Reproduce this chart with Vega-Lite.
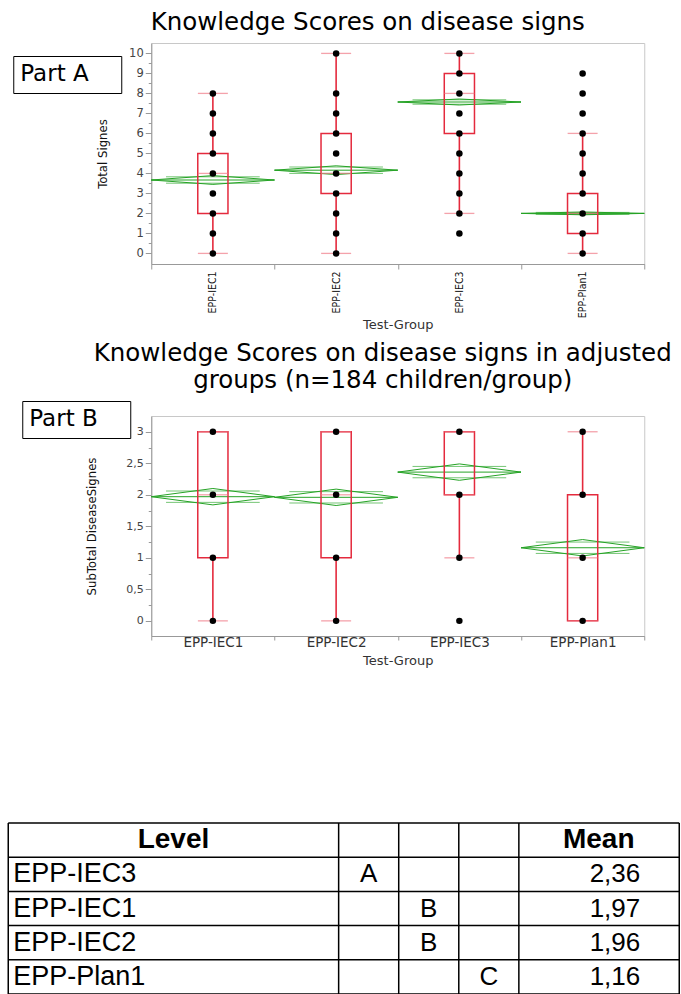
{
  "$schema": "https://vega.github.io/schema/vega-lite/v6.json",
  "padding": {"left": 7.25, "top": 9, "right": 0, "bottom": 0},
  "background": "white",
  "config": {
    "view": {"stroke": "#c8c8c8", "strokeWidth": 1},
    "axis": {"grid": false, "domainColor": "#999999", "tickColor": "#999999"},
    "locale": {"number": {"decimal": ",", "thousands": " ", "grouping": [3], "currency": ["", " €"]}}
  },
  "datasets": {
    "pointsA": [
      {"group": "EPP-IEC1", "score": 0}, {"group": "EPP-IEC1", "score": 1}, {"group": "EPP-IEC1", "score": 2},
      {"group": "EPP-IEC1", "score": 3}, {"group": "EPP-IEC1", "score": 4}, {"group": "EPP-IEC1", "score": 5},
      {"group": "EPP-IEC1", "score": 6}, {"group": "EPP-IEC1", "score": 7}, {"group": "EPP-IEC1", "score": 8},
      {"group": "EPP-IEC2", "score": 0}, {"group": "EPP-IEC2", "score": 1}, {"group": "EPP-IEC2", "score": 2},
      {"group": "EPP-IEC2", "score": 3}, {"group": "EPP-IEC2", "score": 4}, {"group": "EPP-IEC2", "score": 5},
      {"group": "EPP-IEC2", "score": 6}, {"group": "EPP-IEC2", "score": 7}, {"group": "EPP-IEC2", "score": 8},
      {"group": "EPP-IEC2", "score": 10},
      {"group": "EPP-IEC3", "score": 1}, {"group": "EPP-IEC3", "score": 2}, {"group": "EPP-IEC3", "score": 3},
      {"group": "EPP-IEC3", "score": 4}, {"group": "EPP-IEC3", "score": 5}, {"group": "EPP-IEC3", "score": 6},
      {"group": "EPP-IEC3", "score": 7}, {"group": "EPP-IEC3", "score": 8}, {"group": "EPP-IEC3", "score": 9},
      {"group": "EPP-IEC3", "score": 10},
      {"group": "EPP-Plan1", "score": 0}, {"group": "EPP-Plan1", "score": 1}, {"group": "EPP-Plan1", "score": 2},
      {"group": "EPP-Plan1", "score": 3}, {"group": "EPP-Plan1", "score": 4}, {"group": "EPP-Plan1", "score": 5},
      {"group": "EPP-Plan1", "score": 6}, {"group": "EPP-Plan1", "score": 7}, {"group": "EPP-Plan1", "score": 8},
      {"group": "EPP-Plan1", "score": 9}
    ],
    "statsA": [
      {"group": "EPP-IEC1", "lo": 0, "q1": 2, "median": 4, "q3": 5, "hi": 8, "mean": 3.67, "ci_lo": 3.45, "ci_hi": 3.89, "ol_lo": 3.51, "ol_hi": 3.83},
      {"group": "EPP-IEC2", "lo": 0, "q1": 3, "median": 4, "q3": 6, "hi": 10, "mean": 4.16, "ci_lo": 3.94, "ci_hi": 4.38, "ol_lo": 4.0, "ol_hi": 4.32},
      {"group": "EPP-IEC3", "lo": 2, "q1": 6, "median": 8, "q3": 9, "hi": 10, "mean": 7.57, "ci_lo": 7.42, "ci_hi": 7.72, "ol_lo": 7.46, "ol_hi": 7.68},
      {"group": "EPP-Plan1", "lo": 0, "q1": 1, "median": 2, "q3": 3, "hi": 6, "mean": 2.0, "ci_lo": 1.93, "ci_hi": 2.07, "ol_lo": 1.95, "ol_hi": 2.05}
    ],
    "pointsB": [
      {"group": "EPP-IEC1", "score": 0}, {"group": "EPP-IEC1", "score": 1}, {"group": "EPP-IEC1", "score": 2}, {"group": "EPP-IEC1", "score": 3},
      {"group": "EPP-IEC2", "score": 0}, {"group": "EPP-IEC2", "score": 1}, {"group": "EPP-IEC2", "score": 2}, {"group": "EPP-IEC2", "score": 3},
      {"group": "EPP-IEC3", "score": 0}, {"group": "EPP-IEC3", "score": 1}, {"group": "EPP-IEC3", "score": 2}, {"group": "EPP-IEC3", "score": 3},
      {"group": "EPP-Plan1", "score": 0}, {"group": "EPP-Plan1", "score": 1}, {"group": "EPP-Plan1", "score": 2}, {"group": "EPP-Plan1", "score": 3}
    ],
    "statsB": [
      {"group": "EPP-IEC1", "lo": 0, "q1": 1, "median": 2, "q3": 3, "hi": 3, "mean": 1.97, "ci_lo": 1.84, "ci_hi": 2.1, "ol_lo": 1.88, "ol_hi": 2.06, "letter": "B"},
      {"group": "EPP-IEC2", "lo": 0, "q1": 1, "median": 2, "q3": 3, "hi": 3, "mean": 1.96, "ci_lo": 1.83, "ci_hi": 2.09, "ol_lo": 1.87, "ol_hi": 2.05, "letter": "B"},
      {"group": "EPP-IEC3", "lo": 1, "q1": 2, "median": 2, "q3": 3, "hi": 3, "mean": 2.36, "ci_lo": 2.23, "ci_hi": 2.49, "ol_lo": 2.27, "ol_hi": 2.45, "letter": "A"},
      {"group": "EPP-Plan1", "lo": 0, "q1": 0, "median": 1, "q3": 2, "hi": 3, "mean": 1.16, "ci_lo": 1.03, "ci_hi": 1.29, "ol_lo": 1.07, "ol_hi": 1.25, "letter": "C"}
    ]
  },
  "bounds": "flush",
  "spacing": 152,
  "resolve": {"scale": {"color": "independent"}},
  "vconcat": [
    {
      "width": 493,
      "height": 221,
      "title": {"text": "Knowledge Scores on disease signs", "font": "DejaVu Sans", "fontSize": 24.5, "fontWeight": "normal", "color": "#000000", "anchor": "middle", "dx": -30, "offset": 8},
      "resolve": {"axis": {"y": "independent"}},
      "layer": [
        {"data": {"name": "statsA"}, "mark": {"type": "rule", "color": "#26a326", "strokeWidth": 1},
         "encoding": {"x": {"field": "group", "type": "nominal", "bandPosition": 0}, "x2": {"field": "group", "bandPosition": 0.5},
                      "y": {"field": "mean", "type": "quantitative", "axis": null}, "y2": {"field": "ci_hi"}}},
        {"data": {"name": "statsA"}, "mark": {"type": "rule", "color": "#26a326", "strokeWidth": 1},
         "encoding": {"x": {"field": "group", "type": "nominal", "bandPosition": 0.5}, "x2": {"field": "group", "bandPosition": 1},
                      "y": {"field": "ci_hi", "type": "quantitative", "axis": null}, "y2": {"field": "mean"}}},
        {"data": {"name": "statsA"}, "mark": {"type": "rule", "color": "#26a326", "strokeWidth": 1},
         "encoding": {"x": {"field": "group", "type": "nominal", "bandPosition": 0}, "x2": {"field": "group", "bandPosition": 0.5},
                      "y": {"field": "mean", "type": "quantitative", "axis": null}, "y2": {"field": "ci_lo"}}},
        {"data": {"name": "statsA"}, "mark": {"type": "rule", "color": "#26a326", "strokeWidth": 1},
         "encoding": {"x": {"field": "group", "type": "nominal", "bandPosition": 0.5}, "x2": {"field": "group", "bandPosition": 1},
                      "y": {"field": "ci_lo", "type": "quantitative", "axis": null}, "y2": {"field": "mean"}}},
        {"data": {"name": "statsA"}, "mark": {"type": "rule", "color": "#26a326", "strokeWidth": 1},
         "encoding": {"x": {"field": "group", "type": "nominal", "bandPosition": 0}, "x2": {"field": "group", "bandPosition": 1},
                      "y": {"field": "mean", "type": "quantitative", "axis": null}}},
        {"data": {"name": "statsA"}, "mark": {"type": "rule", "color": "#26a326", "strokeWidth": 0.8, "opacity": 0.8},
         "encoding": {"x": {"field": "group", "type": "nominal", "bandPosition": 0.12}, "x2": {"field": "group", "bandPosition": 0.88},
                      "y": {"field": "ol_hi", "type": "quantitative", "axis": null}}},
        {"data": {"name": "statsA"}, "mark": {"type": "rule", "color": "#26a326", "strokeWidth": 0.8, "opacity": 0.8},
         "encoding": {"x": {"field": "group", "type": "nominal", "bandPosition": 0.12}, "x2": {"field": "group", "bandPosition": 0.88},
                      "y": {"field": "ol_lo", "type": "quantitative", "axis": null}}},
        {"data": {"name": "statsA"}, "mark": {"type": "bar", "filled": false, "color": "#e42a3d", "strokeWidth": 1.5, "width": {"band": 0.245}},
         "encoding": {
           "x": {"field": "group", "type": "nominal", "scale": {"paddingInner": 0, "paddingOuter": 0},
                 "axis": {"title": "Test-Group", "titleFont": "DejaVu Sans", "titleFontSize": 13, "titleFontWeight": "normal", "titleColor": "#333333", "titlePadding": 1,
                          "labelAngle": 270, "labelFont": "DejaVu Sans Condensed, Open Sans", "labelFontSize": 10.5, "labelColor": "#111111", "labelPadding": 2,
                          "tickBand": "extent", "tickSize": 5}},
           "y": {"field": "q1", "type": "quantitative", "scale": {"domain": [-0.53, 10.52], "nice": false, "zero": false},
                 "axis": {"orient": "left", "title": "Total Signes", "titleFont": "Liberation Sans Narrow, DejaVu Sans Condensed, sans-serif", "titleFontSize": 13, "titleFontWeight": "normal", "titleColor": "#111111",
                          "titleAngle": 270, "titleX": -49, "titleY": 110.5, "titleAlign": "center", "titleBaseline": "middle",
                          "values": [0, 1, 2, 3, 4, 5, 6, 7, 8, 9, 10], "format": "d", "labelOverlap": false, "tickSize": 6,
                          "labelFont": "DejaVu Sans", "labelFontSize": 11.5, "labelColor": "#444444", "labelPadding": 2}},
           "y2": {"field": "q3"}}},
        {"data": {"name": "statsA"}, "mark": {"type": "rule", "color": "#e42a3d", "strokeWidth": 1.6},
         "encoding": {"x": {"field": "group", "type": "nominal"}, "y": {"field": "lo", "type": "quantitative", "axis": null}, "y2": {"field": "q1"}}},
        {"data": {"name": "statsA"}, "mark": {"type": "rule", "color": "#e42a3d", "strokeWidth": 1.6},
         "encoding": {"x": {"field": "group", "type": "nominal"}, "y": {"field": "q3", "type": "quantitative", "axis": null}, "y2": {"field": "hi"}}},
        {"data": {"name": "statsA"}, "mark": {"type": "tick", "color": "#ef7a88", "size": 30, "thickness": 1.3},
         "encoding": {"x": {"field": "group", "type": "nominal"}, "y": {"field": "lo", "type": "quantitative", "axis": null}}},
        {"data": {"name": "statsA"}, "mark": {"type": "tick", "color": "#ef7a88", "size": 30, "thickness": 1.3},
         "encoding": {"x": {"field": "group", "type": "nominal"}, "y": {"field": "hi", "type": "quantitative", "axis": null}}},
        {"data": {"name": "statsA"}, "mark": {"type": "tick", "color": "#ef7a88", "size": 30, "thickness": 1.3},
         "encoding": {"x": {"field": "group", "type": "nominal"}, "y": {"field": "median", "type": "quantitative", "axis": null}}},
        {"data": {"name": "pointsA"}, "mark": {"type": "circle", "size": 42, "opacity": 1},
         "encoding": {"x": {"field": "group", "type": "nominal"},
                      "y": {"field": "score", "type": "quantitative",
                            "axis": {"orient": "left", "values": [0.5, 1.5, 2.5, 3.5, 4.5, 5.5, 6.5, 7.5, 8.5, 9.5], "tickSize": 3, "labels": false, "domain": false, "title": null}},
                      "color": {"datum": "Part A", "scale": {"range": ["#000000"]},
                                "legend": {"orient": "none", "legendX": -138, "legendY": 13,
                                           "title": "Part A", "titleOrient": "left", "titleFont": "DejaVu Sans", "titleFontSize": 23, "titleFontWeight": "normal", "titleColor": "#000000", "titlePadding": 3,
                                           "labelExpr": "''", "labelFontSize": 1, "labelOffset": 0,
                                           "symbolSize": 484, "symbolOpacity": 0, "symbolStrokeWidth": 0,
                                           "strokeColor": "#000000", "fillColor": "#ffffff", "padding": 7}}}}
      ]
    },
    {
      "width": 493,
      "height": 220,
      "title": {"text": ["Knowledge Scores on disease signs in adjusted", "groups (n=184 children/group)"], "font": "DejaVu Sans", "fontSize": 24.5, "fontWeight": "normal", "lineHeight": 27, "color": "#000000", "anchor": "middle", "dx": -15, "offset": 7},
      "resolve": {"axis": {"y": "independent"}},
      "layer": [
        {"data": {"name": "statsB"}, "mark": {"type": "rule", "color": "#26a326", "strokeWidth": 1},
         "encoding": {"x": {"field": "group", "type": "nominal", "bandPosition": 0}, "x2": {"field": "group", "bandPosition": 0.5},
                      "y": {"field": "mean", "type": "quantitative", "axis": null}, "y2": {"field": "ci_hi"}}},
        {"data": {"name": "statsB"}, "mark": {"type": "rule", "color": "#26a326", "strokeWidth": 1},
         "encoding": {"x": {"field": "group", "type": "nominal", "bandPosition": 0.5}, "x2": {"field": "group", "bandPosition": 1},
                      "y": {"field": "ci_hi", "type": "quantitative", "axis": null}, "y2": {"field": "mean"}}},
        {"data": {"name": "statsB"}, "mark": {"type": "rule", "color": "#26a326", "strokeWidth": 1},
         "encoding": {"x": {"field": "group", "type": "nominal", "bandPosition": 0}, "x2": {"field": "group", "bandPosition": 0.5},
                      "y": {"field": "mean", "type": "quantitative", "axis": null}, "y2": {"field": "ci_lo"}}},
        {"data": {"name": "statsB"}, "mark": {"type": "rule", "color": "#26a326", "strokeWidth": 1},
         "encoding": {"x": {"field": "group", "type": "nominal", "bandPosition": 0.5}, "x2": {"field": "group", "bandPosition": 1},
                      "y": {"field": "ci_lo", "type": "quantitative", "axis": null}, "y2": {"field": "mean"}}},
        {"data": {"name": "statsB"}, "mark": {"type": "rule", "color": "#26a326", "strokeWidth": 1},
         "encoding": {"x": {"field": "group", "type": "nominal", "bandPosition": 0}, "x2": {"field": "group", "bandPosition": 1},
                      "y": {"field": "mean", "type": "quantitative", "axis": null}}},
        {"data": {"name": "statsB"}, "mark": {"type": "rule", "color": "#26a326", "strokeWidth": 0.8, "opacity": 0.8},
         "encoding": {"x": {"field": "group", "type": "nominal", "bandPosition": 0.12}, "x2": {"field": "group", "bandPosition": 0.88},
                      "y": {"field": "ol_hi", "type": "quantitative", "axis": null}}},
        {"data": {"name": "statsB"}, "mark": {"type": "rule", "color": "#26a326", "strokeWidth": 0.8, "opacity": 0.8},
         "encoding": {"x": {"field": "group", "type": "nominal", "bandPosition": 0.12}, "x2": {"field": "group", "bandPosition": 0.88},
                      "y": {"field": "ol_lo", "type": "quantitative", "axis": null}}},
        {"data": {"name": "statsB"}, "mark": {"type": "bar", "filled": false, "color": "#e42a3d", "strokeWidth": 1.5, "width": {"band": 0.245}},
         "encoding": {
           "x": {"field": "group", "type": "nominal", "scale": {"paddingInner": 0, "paddingOuter": 0},
                 "axis": {"title": "Test-Group", "titleFont": "DejaVu Sans", "titleFontSize": 13, "titleFontWeight": "normal", "titleColor": "#333333", "titlePadding": 6,
                          "labelAngle": 0, "labelAlign": "center", "labelFont": "DejaVu Sans", "labelFontSize": 13.5, "labelColor": "#333333", "labelPadding": 2,
                          "tickBand": "extent", "tickSize": 4}},
           "y": {"field": "q1", "type": "quantitative", "scale": {"domain": [-0.24, 3.25], "nice": false, "zero": false},
                 "axis": {"orient": "left", "title": "SubTotal DiseaseSignes", "titleFont": "Liberation Sans Narrow, DejaVu Sans Condensed, sans-serif", "titleFontSize": 13, "titleFontWeight": "normal", "titleColor": "#111111",
                          "titleAngle": 270, "titleX": -60, "titleY": 110, "titleAlign": "center", "titleBaseline": "middle",
                          "values": [0, 0.5, 1, 1.5, 2, 2.5, 3], "format": ".1~f", "labelOverlap": false, "tickSize": 6,
                          "labelFont": "DejaVu Sans", "labelFontSize": 11, "labelColor": "#444444", "labelPadding": 2}},
           "y2": {"field": "q3"}}},
        {"data": {"name": "statsB"}, "mark": {"type": "rule", "color": "#e42a3d", "strokeWidth": 1.6},
         "encoding": {"x": {"field": "group", "type": "nominal"}, "y": {"field": "lo", "type": "quantitative", "axis": null}, "y2": {"field": "q1"}}},
        {"data": {"name": "statsB"}, "mark": {"type": "rule", "color": "#e42a3d", "strokeWidth": 1.6},
         "encoding": {"x": {"field": "group", "type": "nominal"}, "y": {"field": "q3", "type": "quantitative", "axis": null}, "y2": {"field": "hi"}}},
        {"data": {"name": "statsB"}, "mark": {"type": "tick", "color": "#ef7a88", "size": 30, "thickness": 1.3},
         "encoding": {"x": {"field": "group", "type": "nominal"}, "y": {"field": "lo", "type": "quantitative", "axis": null}}},
        {"data": {"name": "statsB"}, "mark": {"type": "tick", "color": "#ef7a88", "size": 30, "thickness": 1.3},
         "encoding": {"x": {"field": "group", "type": "nominal"}, "y": {"field": "hi", "type": "quantitative", "axis": null}}},
        {"data": {"name": "statsB"}, "mark": {"type": "tick", "color": "#ef7a88", "size": 30, "thickness": 1.3},
         "encoding": {"x": {"field": "group", "type": "nominal"}, "y": {"field": "median", "type": "quantitative", "axis": null}}},
        {"data": {"name": "pointsB"}, "mark": {"type": "circle", "size": 42, "opacity": 1},
         "encoding": {"x": {"field": "group", "type": "nominal"},
                      "y": {"field": "score", "type": "quantitative",
                            "axis": {"orient": "left", "values": [0.25, 0.75, 1.25, 1.75, 2.25, 2.75], "tickSize": 3, "labels": false, "domain": false, "title": null}},
                      "color": {"datum": "Part B", "scale": {"range": ["#000000"]},
                                "legend": {"orient": "none", "legendX": -129, "legendY": -15,
                                           "title": "Part B", "titleOrient": "left", "titleFont": "DejaVu Sans", "titleFontSize": 23, "titleFontWeight": "normal", "titleColor": "#000000", "titlePadding": 3,
                                           "labelExpr": "''", "labelFontSize": 1, "labelOffset": 0,
                                           "symbolSize": 484, "symbolOpacity": 0, "symbolStrokeWidth": 0,
                                           "strokeColor": "#000000", "fillColor": "#ffffff", "padding": 7}}}}
      ]
    },
    {
      "width": 528,
      "height": 206,
      "view": {"stroke": null},
      "data": {"name": "statsB"},
      "layer": [
        {"mark": {"type": "rule", "color": "#000000", "strokeWidth": 1.5},
         "encoding": {
           "x": {"datum": 0, "type": "quantitative", "scale": {"domain": [0, 11.17], "range": [-143, 528], "nice": false, "zero": false}, "axis": null},
           "x2": {"datum": 11.17},
           "y": {"field": "group", "type": "nominal", "bandPosition": 0,
                 "scale": {"domain": ["Level", "EPP-IEC3", "EPP-IEC1", "EPP-IEC2", "EPP-Plan1"], "range": [35, 206], "paddingInner": 0, "paddingOuter": 0}, "axis": null}}},
        {"data": {"values": [{}]}, "mark": {"type": "rule", "color": "#000000", "strokeWidth": 1.5},
         "encoding": {"x": {"datum": 0, "type": "quantitative"}, "x2": {"datum": 11.17},
                      "y": {"datum": "Level", "type": "nominal", "bandPosition": 0}}},
        {"data": {"values": [{}]}, "mark": {"type": "rule", "color": "#000000", "strokeWidth": 1.5},
         "encoding": {"x": {"datum": 0, "type": "quantitative"}, "x2": {"datum": 11.17},
                      "y": {"datum": "EPP-Plan1", "type": "nominal", "bandPosition": 1}}},
        {"data": {"values": [{}]}, "mark": {"type": "rule", "color": "#000000", "strokeWidth": 1.5},
         "encoding": {"x": {"datum": 0, "type": "quantitative"},
                      "y": {"datum": "Level", "type": "nominal", "bandPosition": 0}, "y2": {"datum": "EPP-Plan1", "bandPosition": 1}}},
        {"data": {"values": [{}]}, "mark": {"type": "rule", "color": "#000000", "strokeWidth": 1.5},
         "encoding": {"x": {"datum": 5.5, "type": "quantitative"},
                      "y": {"datum": "Level", "type": "nominal", "bandPosition": 0}, "y2": {"datum": "EPP-Plan1", "bandPosition": 1}}},
        {"data": {"values": [{}]}, "mark": {"type": "rule", "color": "#000000", "strokeWidth": 1.5},
         "encoding": {"x": {"datum": 6.5, "type": "quantitative"},
                      "y": {"datum": "Level", "type": "nominal", "bandPosition": 0}, "y2": {"datum": "EPP-Plan1", "bandPosition": 1}}},
        {"data": {"values": [{}]}, "mark": {"type": "rule", "color": "#000000", "strokeWidth": 1.5},
         "encoding": {"x": {"datum": 7.5, "type": "quantitative"},
                      "y": {"datum": "Level", "type": "nominal", "bandPosition": 0}, "y2": {"datum": "EPP-Plan1", "bandPosition": 1}}},
        {"data": {"values": [{}]}, "mark": {"type": "rule", "color": "#000000", "strokeWidth": 1.5},
         "encoding": {"x": {"datum": 8.5, "type": "quantitative"},
                      "y": {"datum": "Level", "type": "nominal", "bandPosition": 0}, "y2": {"datum": "EPP-Plan1", "bandPosition": 1}}},
        {"data": {"values": [{}]}, "mark": {"type": "rule", "color": "#000000", "strokeWidth": 1.5},
         "encoding": {"x": {"datum": 11.17, "type": "quantitative"},
                      "y": {"datum": "Level", "type": "nominal", "bandPosition": 0}, "y2": {"datum": "EPP-Plan1", "bandPosition": 1}}},
        {"data": {"values": [{}]}, "mark": {"type": "text", "text": "Level", "font": "Liberation Sans", "fontSize": 28, "fontWeight": "bold", "color": "#000000"},
         "encoding": {"x": {"datum": 2.75, "type": "quantitative"}, "y": {"datum": "Level", "type": "nominal"}}},
        {"data": {"values": [{}]}, "mark": {"type": "text", "text": "Mean", "font": "Liberation Sans", "fontSize": 28, "fontWeight": "bold", "color": "#000000"},
         "encoding": {"x": {"datum": 9.83, "type": "quantitative"}, "y": {"datum": "Level", "type": "nominal"}}},
        {"mark": {"type": "text", "align": "left", "dx": 5, "font": "Liberation Sans", "fontSize": 27, "color": "#000000"},
         "encoding": {"x": {"datum": 0, "type": "quantitative"}, "y": {"field": "group", "type": "nominal"}, "text": {"field": "group"}}},
        {"transform": [{"filter": "datum.letter === 'A'"}],
         "mark": {"type": "text", "font": "Liberation Sans", "fontSize": 26, "color": "#000000"},
         "encoding": {"x": {"datum": 6, "type": "quantitative"}, "y": {"field": "group", "type": "nominal"}, "text": {"field": "letter"}}},
        {"transform": [{"filter": "datum.letter === 'B'"}],
         "mark": {"type": "text", "font": "Liberation Sans", "fontSize": 26, "color": "#000000"},
         "encoding": {"x": {"datum": 7, "type": "quantitative"}, "y": {"field": "group", "type": "nominal"}, "text": {"field": "letter"}}},
        {"transform": [{"filter": "datum.letter === 'C'"}],
         "mark": {"type": "text", "font": "Liberation Sans", "fontSize": 26, "color": "#000000"},
         "encoding": {"x": {"datum": 8, "type": "quantitative"}, "y": {"field": "group", "type": "nominal"}, "text": {"field": "letter"}}},
        {"mark": {"type": "text", "align": "right", "dx": -39, "font": "Liberation Sans", "fontSize": 26, "color": "#000000"},
         "encoding": {"x": {"datum": 11.17, "type": "quantitative"}, "y": {"field": "group", "type": "nominal"}, "text": {"field": "mean", "type": "quantitative", "format": ".2f"}}}
      ]
    }
  ]
}
